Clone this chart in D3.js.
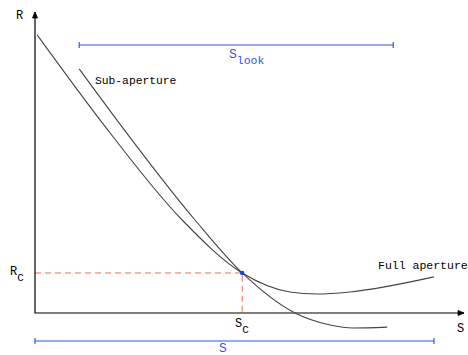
<!DOCTYPE html>
<html>
<head>
<meta charset="utf-8">
<script src="https://cdn.jsdelivr.net/npm/d3@7"></script>
<style>
  html, body { margin: 0; padding: 0; background: #fff; }
  svg { display: block; }
  text { font-family: "Liberation Mono", "DejaVu Sans Mono", monospace; }
</style>
</head>
<body>
<div id="chart"></div>
<script>
// curve samples (s, R)
const fullS = [0.05, 1.52, 3.43, 4.83, 5.94, 6.57, 7.34, 9.30];
const fullR = [9.24, 6.41, 3.09, 1.33, 0.70, 0.63, 0.70, 1.20];
const subS = [1.03, 1.91, 3.73, 4.83, 6.06, 6.88, 7.41, 8.21];
const subR = [8.11, 6.41, 3.09, 1.33, 0.00, -0.40, -0.50, -0.47];

// crossing point and extents
const sC = 4.83;
const rC = 1.33;
const sLook = [1.03, 8.35];
const sTotal = [0, 9.30];

const width = 468, height = 355;
const blue = "#3355ee";

const svg = d3.select("#chart")
    .append("svg")
    .attr("width", width)
    .attr("height", height);

const x = d3.scaleLinear().domain([0, 10]).range([35, 464]);
const y = d3.scaleLinear().domain([0, 10]).range([313, 12]);

// dashed guides to Rc / Sc
svg.append("path")
    .attr("d", `M${x(0)},${y(rC)}H${x(sC)}V${y(0)}`)
    .attr("fill", "none")
    .attr("stroke", "#f07050")
    .attr("stroke-width", 1)
    .attr("stroke-dasharray", "6,4");

// axes
svg.append("path")
    .attr("d", `M${x(0)},${y(10)}V${y(0)}H${x(10)}`)
    .attr("fill", "none")
    .attr("stroke", "#000")
    .attr("stroke-width", 1.2);

const ax = x(0), ay = y(10), bx = x(10), by = y(0);
svg.append("path")
    .attr("d", `M${ax - 2.5},${ay + 6}L${ax},${ay}L${ax + 2.5},${ay + 6}Z`)
    .attr("fill", "#000").attr("stroke", "#000").attr("stroke-width", 0.8);
svg.append("path")
    .attr("d", `M${bx - 6},${by - 2.5}L${bx},${by}L${bx - 6},${by + 2.5}Z`)
    .attr("fill", "#000").attr("stroke", "#000").attr("stroke-width", 0.8);

// curves
const line = d3.line()
    .x(d => x(d[0]))
    .y(d => y(d[1]))
    .curve(d3.curveMonotoneX);

const curves = [
    { s: fullS, r: fullR },
    { s: subS, r: subR }
];

svg.append("g")
    .selectAll("path")
    .data(curves)
    .join("path")
    .attr("d", d => line(d.s.map((v, i) => [v, d.r[i]])))
    .attr("fill", "none")
    .attr("stroke", "#444")
    .attr("stroke-width", 1.1);

// crossing dot
svg.append("circle")
    .attr("cx", x(sC))
    .attr("cy", y(rC))
    .attr("r", 2.2)
    .attr("fill", "#1a3cff");

// brackets
function bracket(range, yPos) {
    const g = svg.append("g").attr("stroke", blue).attr("stroke-width", 1.2);
    g.append("line").attr("x1", x(range[0])).attr("x2", x(range[1])).attr("y1", yPos).attr("y2", yPos);
    g.append("line").attr("x1", x(range[0])).attr("x2", x(range[0])).attr("y1", yPos - 3).attr("y2", yPos + 3);
    g.append("line").attr("x1", x(range[1])).attr("x2", x(range[1])).attr("y1", yPos - 3).attr("y2", yPos + 3);
}
bracket(sLook, 45);
bracket(sTotal, 341);

// labels
function label(xPos, yPos, main, color, size, sub, subSize) {
    const t = svg.append("text")
        .attr("x", xPos)
        .attr("y", yPos)
        .attr("fill", color)
        .style("font-size", size + "px");
    t.append("tspan").text(main);
    if (sub) {
        t.append("tspan")
            .attr("dy", 6)
            .style("font-size", subSize + "px")
            .text(sub);
    }
}

label(16, 19, "R", "#000", 12);
label(10, 275, "R", "#000", 12, "C", 11);
label(235, 327, "S", "#000", 12, "C", 11);
label(457, 332, "S", "#000", 12);
label(229, 58, "S", blue, 13, "look", 11.5);
label(219, 352, "S", blue, 13);

svg.append("text").attr("x", 95).attr("y", 84)
    .style("font-size", "11.3px").attr("fill", "#000").text("Sub-aperture");
svg.append("text").attr("x", 378).attr("y", 269)
    .style("font-size", "11.5px").attr("fill", "#000").text("Full aperture");
</script>
</body>
</html>
